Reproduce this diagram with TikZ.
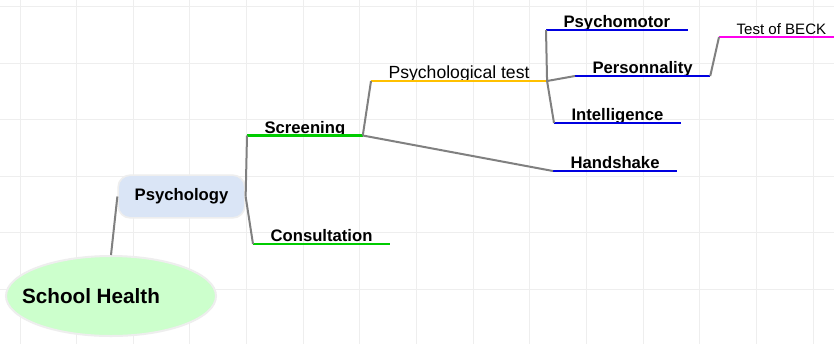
\documentclass[tikz,border=0pt]{standalone}
\usepackage{fontspec}
\setmainfont{Liberation Sans}
\usetikzlibrary{shapes.geometric}
\definecolor{rootgreen}{HTML}{CCFFCC}
\definecolor{psyblue}{HTML}{DAE5F6}
\definecolor{gridgray}{HTML}{EEEEEE}
\definecolor{linkgray}{HTML}{808080}
\definecolor{lvlgreen}{HTML}{00CC00}
\definecolor{lvlorange}{HTML}{FFC000}
\definecolor{lvlblue}{HTML}{0000E0}
\definecolor{lvlpink}{HTML}{FF00EE}
\begin{document}
\begin{tikzpicture}[x=0.75pt,y=-0.75pt,
    branch/.style={anchor=south west,inner xsep=13pt,inner ysep=1.5pt,text depth=0pt,
      font=\fontsize{12.5}{14}\bfseries},
    plain branch/.style={branch,font=\fontsize{13.2}{15}\selectfont},
    link/.style={draw=linkgray,line width=1.5pt},
    uline/.style={line width=1.6pt}]
  \useasboundingbox[fill=white] (0,0) rectangle (834,344);
  % background grid
  \foreach \i in {0,...,14}
    \draw[gridgray,line width=0.75pt] ({20+56.65*\i},0) -- ++(0,344);
  \foreach \j in {0,...,5}
    \draw[gridgray,line width=0.75pt] (0,{6.5+56.5*\j}) -- ++(834,0);
  % main nodes
  \node[ellipse,fill=rootgreen,draw=gridgray,line width=1.5pt,minimum width=157.5pt,
    minimum height=60pt,font=\fontsize{15.5}{18}\bfseries] (sh) at (111,296) {\hspace*{-30pt}School Health};
  \node[rounded corners=9pt,fill=psyblue,draw=gridgray,line width=1.2pt,minimum width=95pt,
    minimum height=32pt,font=\fontsize{12.5}{14}\bfseries] (psy) at (181.5,196.5) {Psychology};
  % branches
  \node[branch] (scr) at (247,135.5) {Screening};
  \node[branch] (con) at (253,244) {Consultation};
  \node[plain branch] (ptest) at (371,81) {Psychological test};
  \node[branch] (pmot) at (546,30) {Psychomotor};
  \node[branch] (pers) at (575,76) {Personnality};
  \node[branch] (intel) at (554,123) {Intelligence};
  \node[branch] (hand) at (553,171) {Handshake};
  \node[branch,font=\fontsize{11.3}{13}\selectfont] (beck) at (719,37) {Test of BECK};
  % underlines
  \draw[uline,lvlgreen] (scr.south west) -- (scr.south east);
  \draw[uline,lvlgreen] (con.south west) -- (con.south east);
  \draw[uline,lvlorange] (ptest.south west) -- (ptest.south east);
  \draw[uline,lvlblue] (pmot.south west) -- (pmot.south east);
  \draw[uline,lvlblue] (pers.south west) -- (pers.south east);
  \draw[uline,lvlblue] (intel.south west) -- (intel.south east);
  \draw[uline,lvlblue] (hand.south west) -- (hand.south east);
  \draw[uline,lvlpink] (beck.south west) -- (beck.south east);
  % connectors
  \draw[link] (sh.north) -- (psy.west);
  \draw[link] (psy.east) -- (scr.south west);
  \draw[link] (psy.east) -- (con.south west);
  \draw[link] (scr.south east) -- (ptest.south west);
  \draw[link] (scr.south east) -- (hand.south west);
  \draw[link] (ptest.south east) -- (pmot.south west);
  \draw[link] (ptest.south east) -- (pers.south west);
  \draw[link] (ptest.south east) -- (intel.south west);
  \draw[link] (pers.south east) -- (beck.south west);
\end{tikzpicture}
\end{document}
